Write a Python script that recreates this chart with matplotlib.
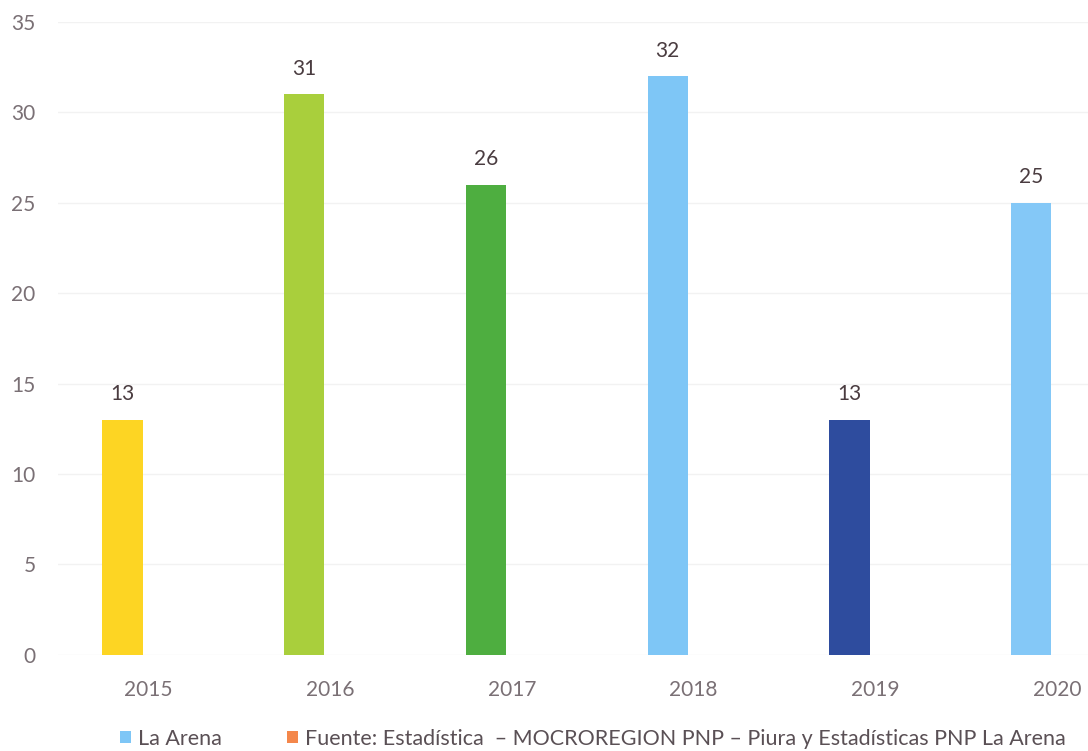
import matplotlib.pyplot as plt
from matplotlib.patches import Patch

years = ["2015", "2016", "2017", "2018", "2019", "2020"]
values = [13, 31, 26, 32, 13, 25]
bar_colors = ["#FDD523", "#A9CF3C", "#4EAE40", "#7EC6F6", "#2E4C9E", "#84C8F7"]

legend_labels = ["La Arena",
                 "Fuente: Estadística  – MOCROREGION PNP – Piura y Estadísticas PNP La Arena"]
legend_colors = ["#7EC6F6", "#F4874B"]

plt.rcParams["font.family"] = ["Lato", "DejaVu Sans"]

fig = plt.figure(figsize=(10.88, 7.51), dpi=100)
ax = fig.add_axes([0.053, 0.128, 0.947, 0.843])

x = list(range(len(years)))
offset = -0.143
bars = ax.bar([i + offset for i in x], values, width=0.222, color=bar_colors, zorder=2)

for b, v in zip(bars, values):
    ax.text(b.get_x() + b.get_width() / 2, v + 0.85, str(v),
            ha="center", va="bottom", fontsize=15, color="#4a3c40")

ax.set_ylim(0, 35)
ax.set_xlim(-0.5, 5.17)
ax.set_yticks(range(0, 36, 5))
ax.set_xticks(x)
ax.set_xticklabels(years)
ax.tick_params(axis="both", length=0, labelsize=15, colors="#7a7075")
ax.tick_params(axis="y", pad=16)
ax.tick_params(axis="x", pad=18)
ax.grid(axis="y", color="#f2f2f2", linewidth=1, zorder=0)
for s in ax.spines.values():
    s.set_visible(False)

handles = [Patch(facecolor=c, edgecolor="none") for c in legend_colors]
fig.legend(handles, legend_labels, loc="center", bbox_to_anchor=(0.545, 0.016),
           ncol=2, frameon=False, fontsize=15.5, handlelength=0.5, handleheight=0.5,
           handletextpad=0.35, columnspacing=3.0, labelcolor="#5a5055")

fig.savefig("out.png", dpi=100)
